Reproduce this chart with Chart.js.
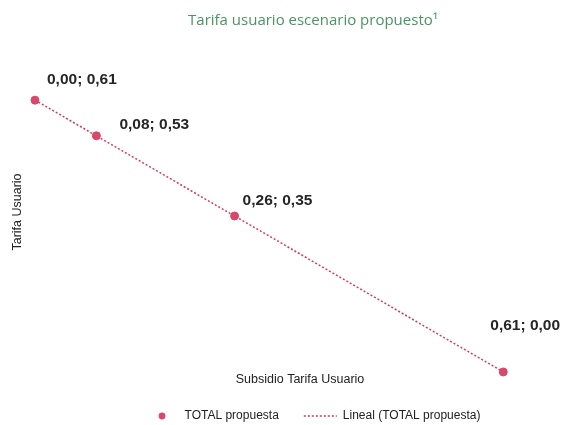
<!DOCTYPE html>
<html>
<head>
<meta charset="utf-8">
<script src="https://cdn.jsdelivr.net/npm/chart.js@4.4.0/dist/chart.umd.min.js"></script>
<style>
  body { margin: 0; background: #fff; }
  canvas { display: block; }
</style>
</head>
<body>
<canvas id="tarifaChart" width="566" height="425"></canvas>
<script>
// Data
const subsidio = [0.00, 0.08, 0.26, 0.61];
const tarifa = [0.61, 0.53, 0.35, 0.00];
const pointLabels = ['0,00; 0,61', '0,08; 0,53', '0,26; 0,35', '0,61; 0,00'];
const seriesName = 'TOTAL propuesta';
const trendName = 'Lineal (TOTAL propuesta)';

// label placement relative to each point (style, not data)
const labelOffsets = [[12, -20], [23, -11], [8, -15], [-13, -46]];

const pointColor = '#d9476a';
const lineColor = '#d63a60';

const points = subsidio.map((x, i) => ({ x: x, y: tarifa[i] }));

// small dot used as the legend marker
const dotImg = document.createElement('canvas');
dotImg.width = 8;
dotImg.height = 8;
const dctx = dotImg.getContext('2d');
dctx.fillStyle = pointColor;
dctx.beginPath();
dctx.arc(4, 4, 3.4, 0, Math.PI * 2);
dctx.fill();

const labelPlugin = {
    id: 'labels',
    afterDatasetsDraw(chart) {
        const ctx = chart.ctx;
        const meta = chart.getDatasetMeta(0);
        ctx.save();
        ctx.font = 'bold 15.5px "Liberation Sans", Arial, sans-serif';
        ctx.fillStyle = '#262626';
        ctx.textAlign = 'left';
        ctx.textBaseline = 'middle';
        meta.data.forEach((pt, i) => {
            const off = labelOffsets[i];
            ctx.fillText(pointLabels[i], pt.x + off[0], pt.y + off[1]);
        });

        // axis titles
        ctx.font = '12.5px "Liberation Sans", Arial, sans-serif';
        ctx.fillStyle = '#222';
        ctx.textAlign = 'center';
        ctx.fillText('Subsidio Tarifa Usuario', 300, 380);
        ctx.translate(18, 212);
        ctx.rotate(-Math.PI / 2);
        ctx.fillText('Tarifa Usuario', 0, 0);
        ctx.restore();
    }
};

new Chart(document.getElementById('tarifaChart'), {
    type: 'scatter',
    data: {
        datasets: [
            {
                label: seriesName,
                data: points,
                backgroundColor: pointColor,
                borderColor: pointColor,
                pointRadius: 4,
                pointHoverRadius: 4,
                clip: false,
                order: 0
            },
            {
                label: trendName,
                type: 'line',
                data: points,
                showLine: true,
                borderColor: lineColor,
                borderWidth: 1.5,
                borderDash: [2, 2],
                pointRadius: 0,
                fill: false,
                clip: false,
                order: 1
            }
        ]
    },
    options: {
        responsive: false,
        animation: false,
        devicePixelRatio: 1,
        layout: {
            padding: { left: 30, right: -30, top: 0, bottom: -7 }
        },
        scales: {
            x: { type: 'linear', display: false, min: -0.0065, max: 0.6852 },
            y: { type: 'linear', display: false, min: -0.0293, max: 0.745 }
        },
        plugins: {
            title: {
                display: true,
                text: 'Tarifa usuario escenario propuesto\u00b9',
                color: '#4a9463',
                font: { family: '"Open Sans", sans-serif', size: 15, weight: 'normal' },
                padding: { top: 12, bottom: 10 }
            },
            legend: {
                position: 'bottom',
                labels: {
                    usePointStyle: true,
                    pointStyleWidth: 33,
                    boxHeight: 8,
                    padding: 25,
                    color: '#222',
                    font: { family: '"Liberation Sans", Arial, sans-serif', size: 12 },
                    generateLabels(chart) {
                        const items = Chart.defaults.plugins.legend.labels.generateLabels(chart);
                        items.forEach(item => {
                            if (item.text === seriesName) {
                                item.pointStyle = dotImg;
                            } else {
                                item.pointStyle = 'line';
                                item.strokeStyle = lineColor;
                                item.lineWidth = 1.5;
                                item.lineDash = [2, 2];
                            }
                        });
                        return items;
                    }
                }
            },
            tooltip: { enabled: false }
        }
    },
    plugins: [labelPlugin]
});
</script>
</body>
</html>
